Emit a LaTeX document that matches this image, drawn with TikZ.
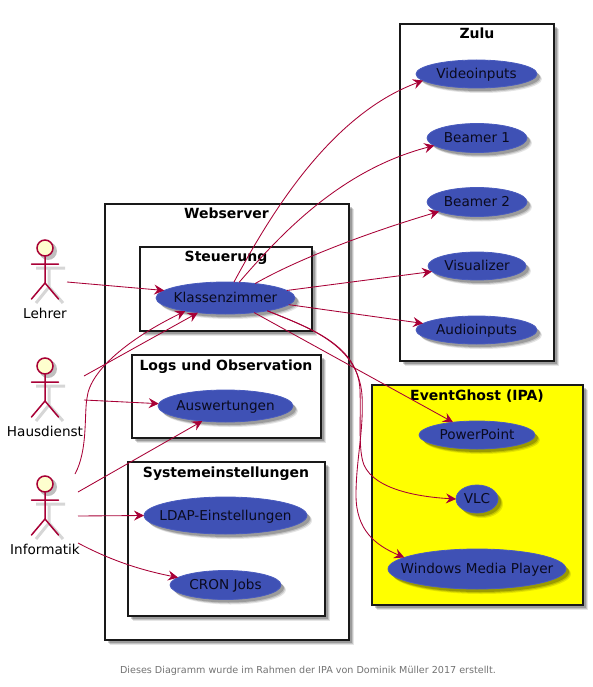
\documentclass[tikz,border=0pt]{standalone}
\usepackage{fontspec}
\setmainfont{DejaVu Sans}
\usetikzlibrary{shapes.geometric,shadows,arrows.meta}
\definecolor{ucfill}{RGB}{63,81,181}
\definecolor{ucedge}{RGB}{74,92,190}
\definecolor{actline}{RGB}{168,0,54}
\definecolor{actfill}{RGB}{254,254,206}
\definecolor{lbl}{RGB}{10,10,30}
\definecolor{pureyellow}{RGB}{255,255,0}
\tikzset{
  softshade/.style={
    general shadow={fill=black,opacity=.10,shadow xshift=5pt,shadow yshift=-5pt},
    general shadow={fill=black,opacity=.15,shadow xshift=4pt,shadow yshift=-4pt},
    general shadow={fill=black,opacity=.20,shadow xshift=3pt,shadow yshift=-3pt}},
  pkg/.style={draw=black!90,line width=2pt,fill=white,rectangle,inner sep=0pt,outer sep=0pt,softshade},
  pkgtitle/.style={font=\fontsize{14}{16}\selectfont\bfseries,text=black,inner sep=0pt,anchor=base},
  uc/.style={ellipse,draw=ucedge,line width=.8pt,fill=ucfill,text=lbl,inner sep=0pt,outer sep=0pt,
    font=\fontsize{13.6}{15}\selectfont,softshade},
  conn/.style={draw=actline,line width=.85pt,-{Stealth[length=10pt,width=10pt,inset=3.5pt]}},
  stick/.style={draw=actline,line width=1.5pt,line cap=round},
  stickshade/.style={draw=black,opacity=.16,line width=3pt},
  actorname/.style={font=\fontsize{13.6}{15}\selectfont,text=black,inner sep=0pt,anchor=base},
  foot/.style={font=\fontsize{9.6}{11}\selectfont,text=black!55,inner sep=0pt}
}
\newcommand{\uct}[1]{\makebox[0pt]{\raisebox{-4.7pt}[0pt][0pt]{#1}}}
\newcommand{\stickfigure}[2]{%
  \draw[stickshade] (#1+4,#2+20) -- (#1+4,#2+39) (#1-9,#2+20) -- (#1+20,#2+20)
    (#1+4,#2+39) -- (#1-9,#2+55) (#1+4,#2+39) -- (#1+18,#2+55);
  \fill[black,opacity=.25] (#1+3,#2+3) circle (9);
  \draw[stick] (#1,#2+8.5) -- (#1,#2+35) (#1-13.5,#2+16) -- (#1+13.5,#2+16)
    (#1,#2+35) -- (#1-13.5,#2+51) (#1,#2+35) -- (#1+13.5,#2+51);
  \draw[stick,fill=actfill] (#1,#2) circle (8);
}
\begin{document}
\begin{tikzpicture}[x=1pt,y=-1pt]
\useasboundingbox[fill=white] (0,0) rectangle (592,687);

% packages
\node[pkg,minimum width=244.5pt,minimum height=436.5pt] (web) at (226.75,421.75) {};
\node[pkg,minimum width=171.5pt,minimum height=84.5pt] (steu) at (225.75,288.75) {};
\node[pkg,minimum width=189.5pt,minimum height=83pt] (logs) at (226.25,396.5) {};
\node[pkg,minimum width=197pt,minimum height=154pt] (syst) at (226.5,539) {};
\node[pkg,minimum width=154pt,minimum height=337pt] (zulu) at (477,192.5) {};
\node[pkg,fill=pureyellow,minimum width=210.5pt,minimum height=220pt] (egh) at (477.25,495) {};

\node[pkgtitle] (webT) at (226.5,218) {Webserver};
\node[pkgtitle] (steuT) at (226,261) {Steuerung};
\node[pkgtitle] (logsT) at (226,370) {Logs und Observation};
\node[pkgtitle] (systT) at (226,477) {Systemeinstellungen};
\node[pkgtitle] (zuluT) at (477,39) {Zulu};
\node[pkgtitle] (eghT) at (477,400) {EventGhost (IPA)};

% use cases
\node[uc,minimum width=139pt,minimum height=32pt] (kz) at (225.5,298) {\uct{Klassenzimmer}};
\node[uc,minimum width=135pt,minimum height=32pt] (ausw) at (225.5,406) {\uct{Auswertungen}};
\node[uc,minimum width=163pt,minimum height=37pt] (ldap) at (225.5,515.5) {\uct{LDAP-Einstellungen}};
\node[uc,minimum width=111pt,minimum height=29pt] (cron) at (225.5,585) {\uct{CRON Jobs}};
\node[uc,minimum width=121pt,minimum height=28pt] (video) at (476.5,74) {\uct{Videoinputs}};
\node[uc,minimum width=100pt,minimum height=29pt] (beam1) at (477,138) {\uct{Beamer 1}};
\node[uc,minimum width=100pt,minimum height=29pt] (beam2) at (477,202) {\uct{Beamer 2}};
\node[uc,minimum width=98pt,minimum height=28pt] (visu) at (477,266) {\uct{Visualizer}};
\node[uc,minimum width=121pt,minimum height=28pt] (audio) at (476.5,330) {\uct{Audioinputs}};
\node[uc,minimum width=116pt,minimum height=28pt] (ppt) at (477,435) {\uct{PowerPoint}};
\node[uc,minimum width=42pt,minimum height=28pt] (vlc) at (477,499) {\uct{VLC}};
\node[uc,minimum width=178pt,minimum height=40pt] (wmp) at (477,569) {\uct{Windows Media Player}};

% actors
\stickfigure{45}{248}
\stickfigure{45}{366}
\stickfigure{45}{484}
\node[actorname] (lehrer) at (45,318) {Lehrer};
\node[actorname] (haus) at (45,436) {Hausdienst};
\node[actorname] (info) at (45,554) {Informatik};
\coordinate (lehrerOut) at (67,282);
\coordinate (hausOutA) at (84,376);
\coordinate (hausOutB) at (84,400);
\coordinate (infoOutA) at (75,474);
\coordinate (infoOutB) at (78,492);
\coordinate (infoOutC) at (78,516);
\coordinate (infoOutD) at (78,543);

% connectors
\draw[conn] (lehrerOut) -- (kz.173.7);
\draw[conn] (hausOutA) -- (kz.208.6);
\draw[conn] (infoOutA) .. controls (88,450) and (84,415) .. (87,398) .. controls (90,370) and (130,338) .. (kz.198.6);
\draw[conn] (hausOutB) -- (ausw.178);
\draw[conn] (infoOutB) -- (ausw.213.7);
\draw[conn] (infoOutC) -- (ldap.west);
\draw[conn] (infoOutD) .. controls (110,560) and (140,570) .. (cron.171.6);
\draw[conn] (kz.62) .. controls (270,215) and (330,115) .. (video.187.7);
\draw[conn] (kz.49) .. controls (280,235) and (340,170) .. (beam1.190.5);
\draw[conn] (kz.26.2) .. controls (300,258) and (370,232) .. (beam2.194.4);
\draw[conn] (kz.7.3) -- (visu.187.6);
\draw[conn] (kz.-6.5) -- (audio.173.6);
\draw[conn] (kz.-27.8) -- (ppt.152.5);
\draw[conn] (kz.-17) .. controls (310,328) and (358,345) .. (360,390) .. controls (361,420) and (358,450) .. (364,465) .. controls (375,490) and (420,497) .. (vlc.west);
\draw[conn] (kz.-17) .. controls (310,328) and (358,345) .. (362,395) .. controls (364,430) and (356,460) .. (356,495) .. controls (356,530) and (375,545) .. (wmp.171.5);

\node[foot] (footer) at (308,671) {Dieses Diagramm wurde im Rahmen der IPA von Dominik Müller 2017 erstellt.};
\end{tikzpicture}
\end{document}
